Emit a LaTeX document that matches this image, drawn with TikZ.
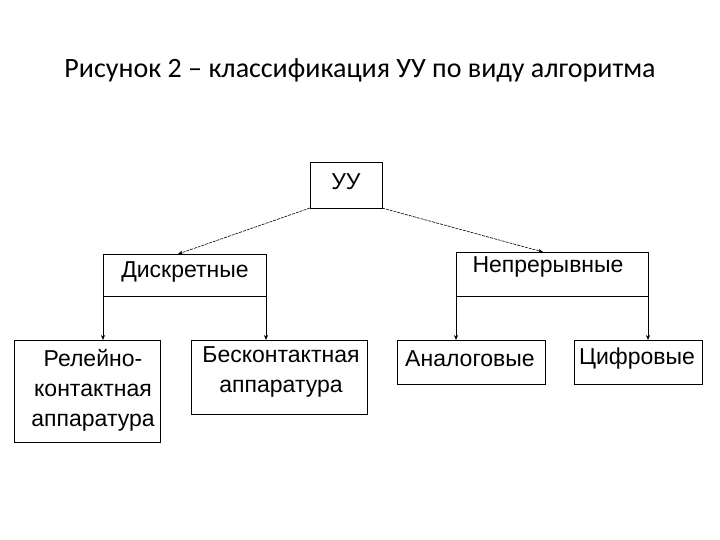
\documentclass[tikz,border=0pt]{standalone}
\usepackage{fontspec}
\usetikzlibrary{arrows.meta}
\setmainfont{Carlito}
\newfontfamily\arialf{Liberation Sans}
\begin{document}
\begin{tikzpicture}[x=1pt,y=-1pt,
 box/.style={draw,line width=0.8pt,fill=white},
 lbl/.style={font=\arialf\fontsize{23}{30}\selectfont,align=center,inner sep=0pt},
 arr/.style={line width=0.6pt,-{Stealth[length=5pt,width=4pt]}}]
\useasboundingbox[fill=white] (0,0) rectangle (720,540);
\node[font=\fontsize{28}{32}\selectfont] (title) at (360,70) {Рисунок 2 – классификация УУ по виду алгоритма};
\draw[box] (310,162) rectangle (382,208);
\node[lbl] (uu) at (346,182) {УУ};
\draw[box] (103,254) rectangle (266,296);
\node[lbl] (d) at (185,272) {Дискретные};
\draw[box] (456,252) rectangle (648,296);
\node[lbl] (n) at (548,267) {Непрерывные};
\draw[box] (14,340) rectangle (160,442);
\node[lbl] (r) at (93,390) {Релейно-\\контактная\\аппаратура};
\draw[box] (191,340) rectangle (367,414);
\node[lbl] (b) at (281,372) {Бесконтактная\\аппаратура};
\draw[box] (397,340) rectangle (545,384);
\node[lbl] (a) at (470,359) {Аналоговые};
\draw[box] (574,340) rectangle (702,384);
\node[lbl] (c) at (637,359) {Цифровые};
\coordinate (u1) at (310,208); \coordinate (u2) at (382,208);
\coordinate (d1) at (178,254); \coordinate (n1) at (543,252);
\coordinate (dl) at (103,296); \coordinate (dr) at (266,296);
\coordinate (nl) at (456,296); \coordinate (nr) at (648,296);
\draw[arr,dash pattern=on 3pt off 1pt] (u1) -- (d1);
\draw[arr,dash pattern=on 3pt off 1pt] (u2) -- (n1);
\draw[arr] (dl) -- (103,340);
\draw[arr] (dr) -- (266,340);
\draw[arr] (nl) -- (456,340);
\draw[arr] (nr) -- (648,340);
\end{tikzpicture}
\end{document}
